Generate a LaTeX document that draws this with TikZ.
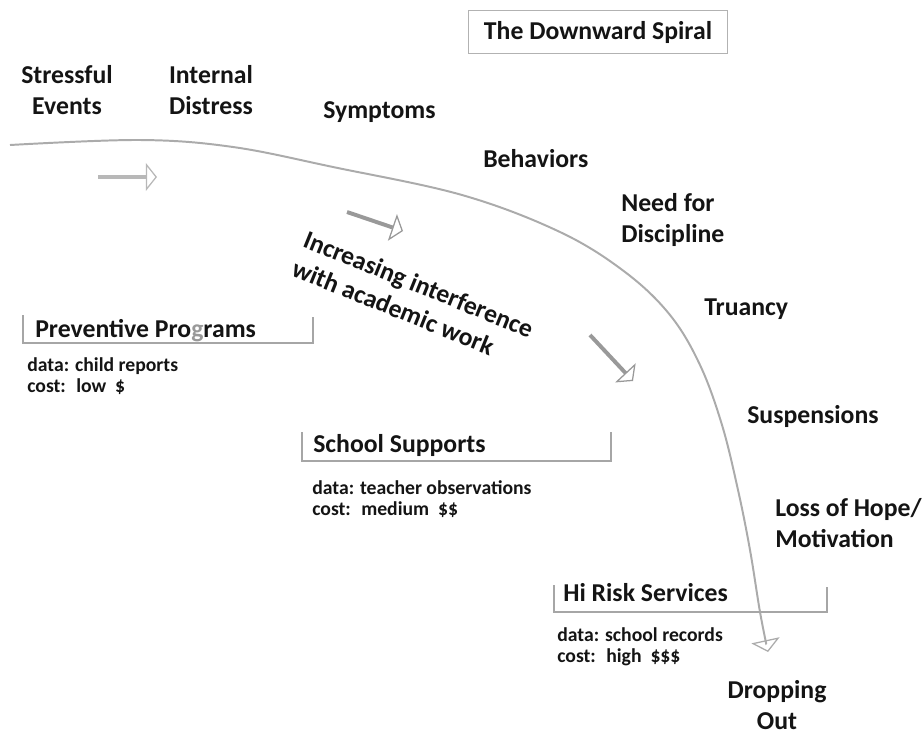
\documentclass[tikz,border=0pt]{standalone}
\usepackage{fontspec}
\setmainfont{Carlito}
\usetikzlibrary{arrows.meta}

\begin{document}
\begin{tikzpicture}[x=0.025cm,y=-0.025cm]
        \tikzstyle{stage}=[font=\bfseries\fontsize{18.3}{22}\selectfont,inner sep=0pt,text=black!92]
        \tikzstyle{info}=[font=\bfseries\fontsize{14}{14.4}\selectfont,inner sep=0pt,text=black!92,align=left,anchor=base west]
        \tikzstyle{bracket}=[draw=black!35,line width=1.3pt]
        \tikzstyle{push}=[line width=2.8pt,-{Triangle[open,length=0.28cm,width=0.7cm,line width=0.9pt]}]

        \useasboundingbox (0,0) rectangle (924,738);

        \node (title)[stage,draw=black!30,line width=1.2pt,minimum width=6.475cm,minimum height=1.075cm] at (598,32) {The Downward Spiral};

        % stages along the spiral (multi-line nodes sit on their last line)
        \node (stress)[stage,align=center,anchor=base] at (67,114) {Stressful\\Events};
        \node (distress)[stage,align=center,anchor=base] at (211,114) {Internal\\Distress};
        \node (sympt)[stage,anchor=base west] at (323,118) {Symptoms};
        \node (behav)[stage,anchor=base west] at (483,167) {Behaviors};
        \node (disc)[stage,align=left,anchor=base west] at (621,242) {Need for\\Discipline};
        \node (truan)[stage,anchor=base west] at (704,315) {Truancy};
        \node (susp)[stage,anchor=base west] at (747,423) {Suspensions};
        \node (hope)[stage,align=left,anchor=base west] at (775,547) {Loss of Hope/\\Motivation};
        \node (drop)[stage,align=center,anchor=base] at (777,729) {Dropping\\Out};

        \node (interf)[stage,align=left,anchor=base west,rotate=-22] at (290,275) {Increasing interference\\with academic work};

        \draw[draw=black!33,line width=1.4pt,-{Triangle[open,length=0.3cm,width=0.72cm,line width=0.9pt]}] plot[smooth,tension=0.6] coordinates {(10,145) (140,140) (233,147) (333,167) (462,195) (560,232) (625,272) (670,315) (700,365) (722,425) (738,490) (750,550) (760,612) (768,652)};

        % small arrows
        \coordinate (a1) at (98,177);
        \coordinate (b1) at (157,177);
        \coordinate (a2) at (347,212);
        \coordinate (b2) at (403,231);
        \coordinate (a3) at (590,335);
        \coordinate (b3) at (633,381);
        \draw[push,draw=black!28] (a1) -- (b1);
        \draw[push,draw=black!40] (a2) -- (b2);
        \draw[push,draw=black!40] (a3) -- (b3);

        % programs
        \draw[bracket] (23,315) -- (23,343) -- (313,343) -- (313,317);
        \node (prev)[stage,anchor=base west] at (35,337) {Preventive Pro\textcolor{black!40}{g}rams};
        \node (prevdata)[info] at (27,392) {data: child reports\\cost:~ low~ \$};

        \draw[bracket] (302,432) -- (302,461) -- (611,461) -- (611,432);
        \node (school)[stage,anchor=base west] at (313,452) {School Supports};
        \node (schooldata)[info] at (312,515) {data: teacher observations\\cost:~ medium~ \$\$};

        \draw[bracket] (554,585) -- (554,612) -- (827,612) -- (827,587);
        \node (risk)[stage,anchor=base west] at (563,601) {Hi Risk Services};
        \node (riskdata)[info] at (557,662) {data: school records\\cost:~ high~ \$\$\$};
\end{tikzpicture}
\end{document}
